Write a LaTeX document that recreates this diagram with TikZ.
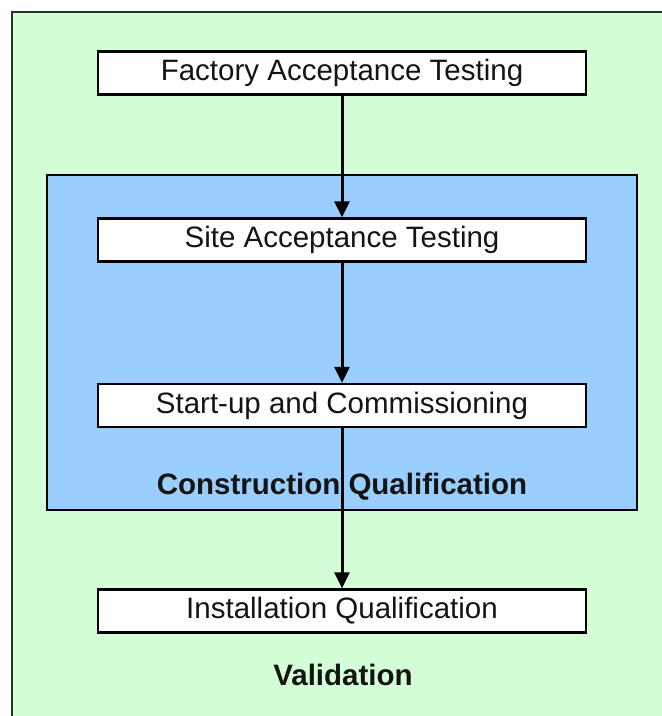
\documentclass[tikz,border=0pt]{standalone}
\usepackage{fontspec}
\setmainfont{Liberation Sans}
\usetikzlibrary{arrows.meta}
\definecolor{valgreen}{RGB}{212,255,214}
\definecolor{cqblue}{RGB}{153,206,255}
\definecolor{frame}{RGB}{40,48,44}
\definecolor{ink}{RGB}{20,20,20}
\tikzset{
  stagebox/.style={draw=black, line width=2.4pt, fill=white, minimum width=488pt,
    minimum height=43pt, inner sep=0pt, text=ink, font=\fontsize{29.5}{34}\selectfont},
  grouplabel/.style={inner sep=0pt, text=ink, font=\fontsize{29.5}{34}\selectfont\bfseries},
  flow/.style={line width=3pt, -{Triangle[length=16pt,width=15pt]}}
}
\begin{document}
\begin{tikzpicture}[x=1pt,y=-1pt]
  \useasboundingbox (0,0) rectangle (662,716);
  \fill[white] (0,0) rectangle (662,716);
  \clip (0,0) rectangle (662,716);
  % validation area
  \draw[frame, line width=2pt, fill=valgreen] (12,12) rectangle (700,760);
  % construction qualification area
  \draw[black, line width=2.4pt, fill=cqblue] (47,175) rectangle (637,510);
  \node[grouplabel] (cq) at (342,487) {Construction Qualification};
  \node[grouplabel] (val) at (343,675) {Validation};
  % stages
  \node[stagebox] (fat) at (342,73) {Factory Acceptance Testing};
  \node[stagebox] (sat) at (342,240) {Site Acceptance Testing};
  \node[stagebox] (suc) at (342,405.5) {Start-up and Commissioning};
  \node[stagebox] (iq)  at (342,611) {Installation Qualification};
  % flow
  \draw[flow] (fat) -- (sat);
  \draw[flow] (sat) -- (suc);
  \draw[flow] (suc) -- (iq);
\end{tikzpicture}
\end{document}
